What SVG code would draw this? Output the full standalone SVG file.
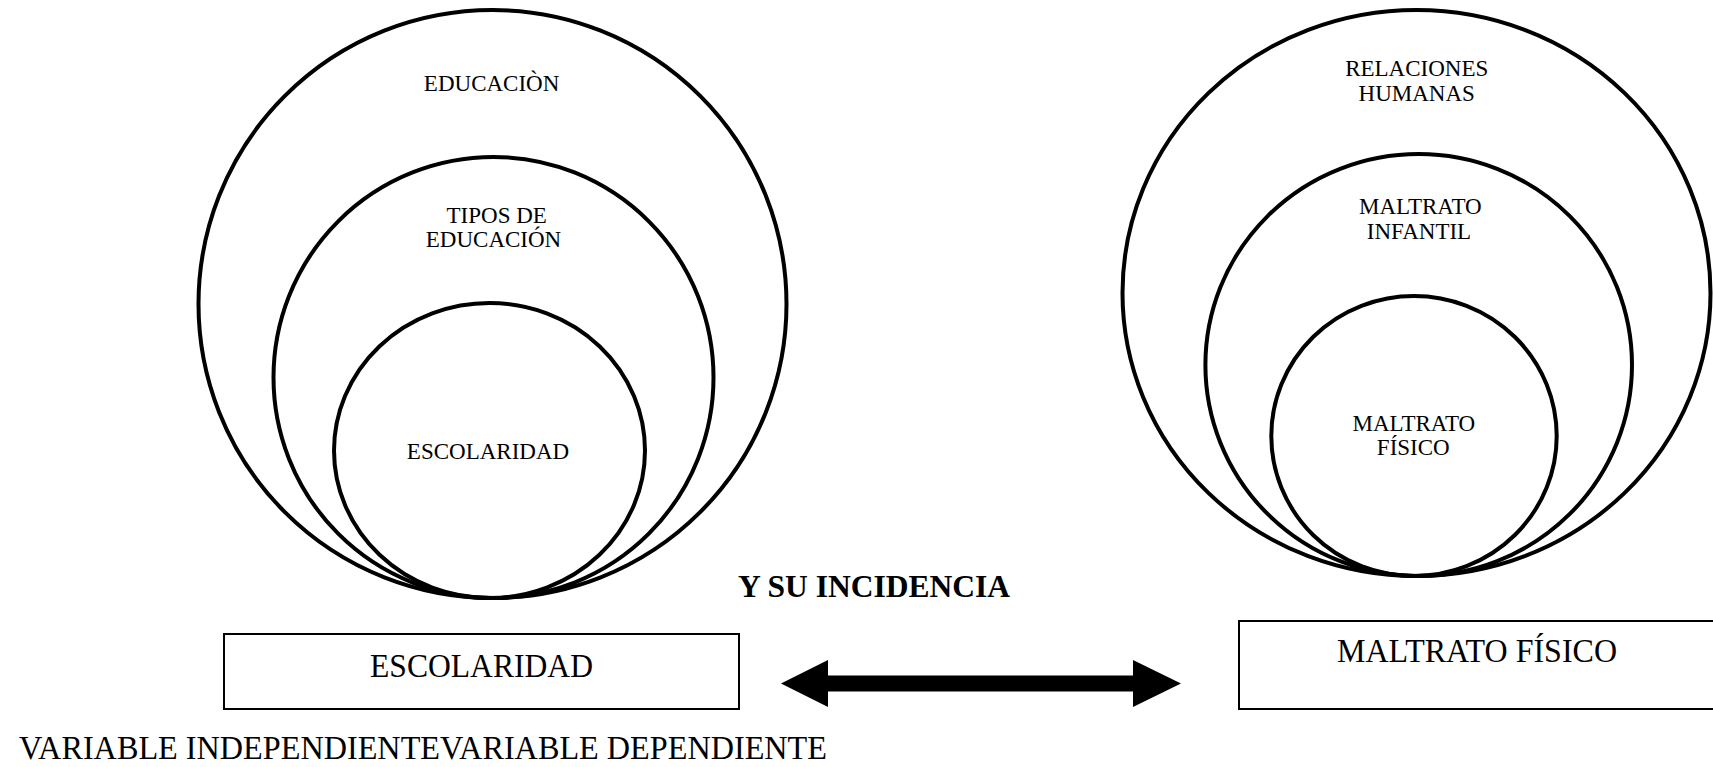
<svg xmlns="http://www.w3.org/2000/svg" width="1713" height="767" viewBox="0 0 1713 767">
<style>
.c{fill:none;stroke:#000;stroke-width:4}
.b{fill:#fff;stroke:#000;stroke-width:2}
.t{font-family:"Liberation Serif","Times New Roman",serif;fill:#000;text-anchor:middle}
.s{font-size:23px}
</style>
<rect width="1713" height="767" fill="#fff"/>
<g id="educacion">
<ellipse class="c" cx="492.5" cy="304" rx="294" ry="294"/>
<text class="t s" x="491.6" y="91">EDUCACIÒN</text>
</g>
<g id="tipos-educacion">
<ellipse class="c" cx="493.5" cy="377.5" rx="220" ry="220.5"/>
<text class="t s" x="496.7" y="222.6">TIPOS DE</text>
<text class="t s" x="493.5" y="247">EDUCACIÓN</text>
</g>
<g id="escolaridad-circle">
<ellipse class="c" cx="489.5" cy="450.5" rx="155.5" ry="147.5"/>
<text class="t s" x="488" y="459">ESCOLARIDAD</text>
</g>
<g id="relaciones">
<ellipse class="c" cx="1416.5" cy="293" rx="294" ry="283"/>
<text class="t s" x="1416.7" y="76">RELACIONES</text>
<text class="t s" x="1416.7" y="100.7">HUMANAS</text>
</g>
<g id="maltrato-infantil">
<ellipse class="c" cx="1418.7" cy="365" rx="213.3" ry="211"/>
<text class="t s" x="1420.3" y="214">MALTRATO</text>
<text class="t s" x="1419" y="238.5">INFANTIL</text>
</g>
<g id="maltrato-fisico-circle">
<ellipse class="c" cx="1414" cy="436" rx="142.7" ry="140"/>
<text class="t s" x="1413.8" y="430.7">MALTRATO</text>
<text class="t s" x="1413.3" y="455.3">FÍSICO</text>
</g>
<g id="incidencia">
<text class="t" x="874" y="597" font-size="31" font-weight="bold" textLength="272" lengthAdjust="spacingAndGlyphs">Y SU INCIDENCIA</text>
</g>
<g id="box-escolaridad">
<rect class="b" x="224" y="634" width="515" height="75"/>
<text class="t" x="481.5" y="677" font-size="34" textLength="223" lengthAdjust="spacingAndGlyphs">ESCOLARIDAD</text>
</g>
<g id="box-maltrato">
<rect class="b" x="1239" y="621" width="500" height="88"/>
<text class="t" x="1477" y="662" font-size="34" textLength="280" lengthAdjust="spacingAndGlyphs">MALTRATO FÍSICO</text>
</g>
<g id="connectors">
<polygon fill="#000" points="781,683.5 828,660 828,675.5 1133,675.5 1133,660 1181,683.5 1133,707 1133,691.5 828,691.5 828,707"/>
</g>
<g id="labels">
<text x="19" y="759" font-family="Liberation Serif, serif" font-size="33" textLength="808" lengthAdjust="spacingAndGlyphs">VARIABLE INDEPENDIENTEVARIABLE DEPENDIENTE</text>
</g>
</svg>
